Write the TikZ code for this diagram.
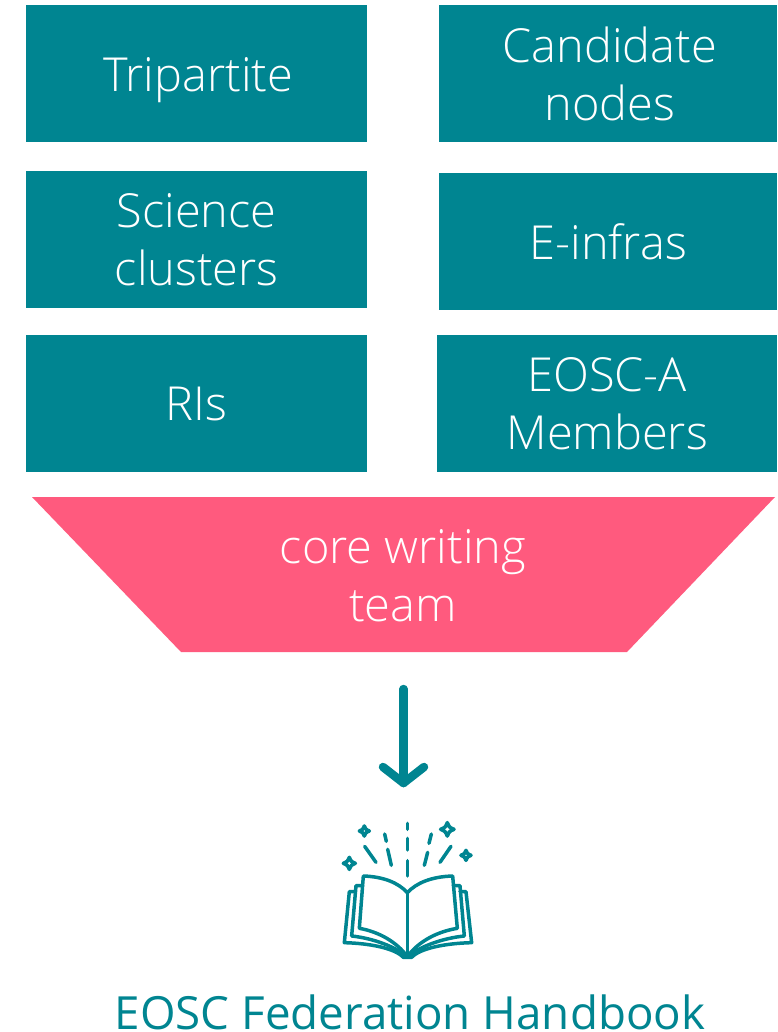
\documentclass[tikz,border=0pt]{standalone}
\usepackage{fontspec}
\setmainfont{Open Sans}
\newfontfamily\lightf{Open Sans Light}
\definecolor{teal1}{RGB}{0,133,145}
\definecolor{pink1}{RGB}{255,90,126}
\tikzset{
 boxn/.style={fill=teal1,draw=none,inner sep=0pt,text=white,align=center,font=\lightf\fontsize{46.9}{58}\selectfont},
 iconl/.style={draw=teal1,line width=3.5pt,line cap=round,line join=round},
 starn/.style={draw=teal1,line width=3.6pt,line join=round},
}
\newcommand{\boxat}[6]{\node[boxn,minimum width=#3pt-#1pt,minimum height=#4pt-#2pt,anchor=north west] (#5) at (#1,#2) {#6};}
\newcommand{\lead}{\rule{0pt}{35pt}}
\newcommand{\spark}[3]{\draw[starn] (#1,#2-#3) .. controls (#1+.3*#3,#2-.3*#3) .. (#1+#3,#2) .. controls (#1+.3*#3,#2+.3*#3) .. (#1,#2+#3) .. controls (#1-.3*#3,#2+.3*#3) .. (#1-#3,#2) .. controls (#1-.3*#3,#2-.3*#3) .. (#1,#2-#3) -- cycle;}
\begin{document}
\begin{tikzpicture}[x=1pt,y=-1pt]
\useasboundingbox (0,0) rectangle (777,1032);
\boxat{26}{5}{367}{142}{a}{\lead\hspace*{3pt}\smash{Tripartite}}
\boxat{439}{5}{777}{142}{b}{\lead\hspace*{3pt}Candidate\\\hspace*{3pt}nodes}
\boxat{26}{171}{367}{308}{c}{\lead Science\\clusters}
\boxat{439}{173}{777}{310}{d}{\lead E-infras}
\boxat{26}{335}{367}{472}{e}{\lead RIs}
\boxat{437}{335}{777}{472}{f}{\lead EOSC-A\\Members}
\fill[pink1] (32,497) -- (775,497) -- (627,652) -- (181,652) -- cycle;
\node[text=white,align=center,inner sep=0pt,font=\lightf\fontsize{46.9}{58}\selectfont] (t) at (403,575) {\lead core writing\\team};
\coordinate (s) at (403.5,689);
\coordinate (h) at (403.5,783);
\draw[teal1,line width=8.5pt,line cap=round,line join=round] (s) -- (h);
\draw[teal1,line width=8.5pt,line cap=round,line join=round] (383,767) -- (h) -- (424,767);
\begin{scope}[shift={(320,800)},x=0.3333pt,y=-0.3333pt]
\draw[iconl] (130,228) .. controls (190,230) and (235,248) .. (262,278) .. controls (290,248) and (335,230) .. (398,228) -- (412,385) .. controls (350,395) and (295,425) .. (262,470) .. controls (230,425) and (175,395) .. (118,385) -- cycle;
\draw[iconl] (262,278) -- (262,470);
\draw[iconl] (128,257) -- (108,257) -- (95,408) .. controls (160,415) and (225,440) .. (262,470) .. controls (300,440) and (365,415) .. (433,408) -- (420,257) -- (400,257);
\draw[iconl] (106,275) -- (88,275) -- (73,428) .. controls (150,430) and (225,445) .. (250,472) -- (275,472) .. controls (300,445) and (375,430) .. (455,428) -- (438,275) -- (420,275);
\draw[iconl] (263,70) -- (263,88) (263,115) -- (263,150) (263,182) -- (263,228);
\draw[iconl] (194,102) -- (199,124) (203,148) -- (214,196) (134,139) -- (168,187);
\draw[iconl] (334,102) -- (327,130) (323,157) -- (313,196) (393,139) -- (360,187);
\spark{133}{93}{15}
\spark{88}{190}{18}
\spark{382}{88}{20}
\spark{438}{166}{15}
\end{scope}
\node[text=teal1,inner sep=0pt,anchor=base,font=\fontsize{45.7}{50}\selectfont] (g) at (410,1029) {EOSC Federation Handbook};
\end{tikzpicture}
\end{document}
